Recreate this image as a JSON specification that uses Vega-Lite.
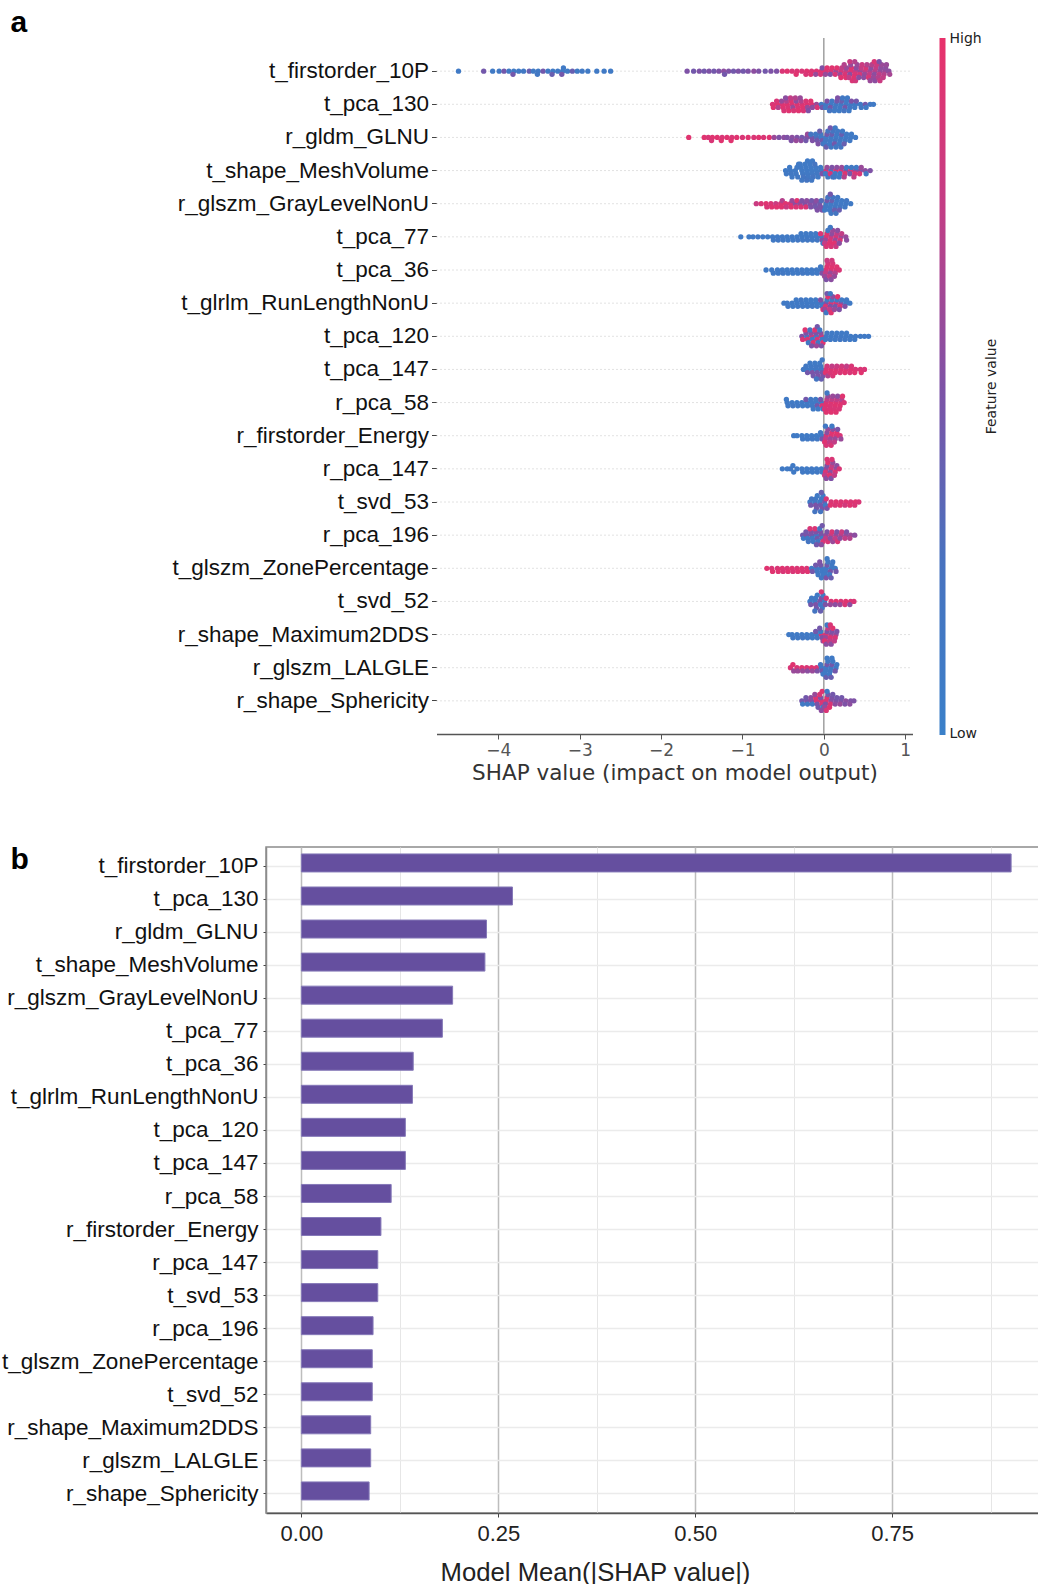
{
"$schema":"https://vega.github.io/schema/vega-lite/v6.json",
"background":"white",
"padding":{"left":0,"top":8,"right":0,"bottom":0},
"spacing":60,
"config":{"view":{"stroke":null},"legend":{"gradientVerticalMaxLength":900}},
"resolve":{"scale":{"x":"independent","y":"independent","color":"independent"},"legend":{"color":"independent"}},
"datasets":{
"names":[{"id":0,"name":"t_firstorder_10P"},{"id":1,"name":"t_pca_130"},{"id":2,"name":"r_gldm_GLNU"},{"id":3,"name":"t_shape_MeshVolume"},{"id":4,"name":"r_glszm_GrayLevelNonU"},{"id":5,"name":"t_pca_77"},{"id":6,"name":"t_pca_36"},{"id":7,"name":"t_glrlm_RunLengthNonU"},{"id":8,"name":"t_pca_120"},{"id":9,"name":"t_pca_147"},{"id":10,"name":"r_pca_58"},{"id":11,"name":"r_firstorder_Energy"},{"id":12,"name":"r_pca_147"},{"id":13,"name":"t_svd_53"},{"id":14,"name":"r_pca_196"},{"id":15,"name":"t_glszm_ZonePercentage"},{"id":16,"name":"t_svd_52"},{"id":17,"name":"r_shape_Maximum2DDS"},{"id":18,"name":"r_glszm_LALGLE"},{"id":19,"name":"r_shape_Sphericity"}],
"bars":[{"name":"t_firstorder_10P","m":0.901},{"name":"t_pca_130","m":0.268},{"name":"r_gldm_GLNU","m":0.235},{"name":"t_shape_MeshVolume","m":0.233},{"name":"r_glszm_GrayLevelNonU","m":0.192},{"name":"t_pca_77","m":0.179},{"name":"t_pca_36","m":0.142},{"name":"t_glrlm_RunLengthNonU","m":0.141},{"name":"t_pca_120","m":0.132},{"name":"t_pca_147","m":0.132},{"name":"r_pca_58","m":0.114},{"name":"r_firstorder_Energy","m":0.101},{"name":"r_pca_147","m":0.097},{"name":"t_svd_53","m":0.097},{"name":"r_pca_196","m":0.091},{"name":"t_glszm_ZonePercentage","m":0.090},{"name":"t_svd_52","m":0.090},{"name":"r_shape_Maximum2DDS","m":0.088},{"name":"r_glszm_LALGLE","m":0.088},{"name":"r_shape_Sphericity","m":0.086}],
"swarm":[
{"f":0,"s":-4.49,"v":0.1},{"f":0,"s":-4.18,"v":0.45},{"f":0,"s":-4.07,"v":0.1},{"f":0,"s":-3.99,"v":0.12},{"f":0,"s":-3.93,"v":0.45},{"f":0,"s":-3.87,"v":0.1},{"f":0,"s":-3.81,"v":0.1},{"f":0,"s":-3.82,"v":0.45},{"f":0,"s":-3.75,"v":0.1},{"f":0,"s":-3.69,"v":0.12},{"f":0,"s":-3.62,"v":0.4},{"f":0,"s":-3.57,"v":0.1},{"f":0,"s":-3.51,"v":0.1},{"f":0,"s":-3.52,"v":0.15},{"f":0,"s":-3.45,"v":0.45},{"f":0,"s":-3.39,"v":0.1},{"f":0,"s":-3.33,"v":0.1},{"f":0,"s":-3.34,"v":0.4},{"f":0,"s":-3.27,"v":0.1},{"f":0,"s":-3.21,"v":0.12},{"f":0,"s":-3.22,"v":0.45},{"f":0,"s":-3.2,"v":0.1},{"f":0,"s":-3.15,"v":0.1},{"f":0,"s":-3.09,"v":0.4},{"f":0,"s":-3.03,"v":0.1},{"f":0,"s":-2.97,"v":0.12},{"f":0,"s":-2.9,"v":0.1},{"f":0,"s":-2.79,"v":0.1},{"f":0,"s":-2.7,"v":0.1},{"f":0,"s":-2.62,"v":0.1},
{"f":0,"s":-1.68,"v":0.5},{"f":0,"s":-1.6,"v":0.45},{"f":0,"s":-1.53,"v":0.5},{"f":0,"s":-1.47,"v":0.45},{"f":0,"s":-1.41,"v":0.5},{"f":0,"s":-1.35,"v":0.45},{"f":0,"s":-1.29,"v":0.5},{"f":0,"s":-1.23,"v":0.55},{"f":0,"s":-1.22,"v":0.45},{"f":0,"s":-1.17,"v":0.5},{"f":0,"s":-1.11,"v":0.45},{"f":0,"s":-1.05,"v":0.5},{"f":0,"s":-0.99,"v":0.45},{"f":0,"s":-0.93,"v":0.5},{"f":0,"s":-0.86,"v":0.55},{"f":0,"s":-0.8,"v":0.5},{"f":0,"s":-0.72,"v":0.45},{"f":0,"s":-0.65,"v":0.5},{"f":0,"s":-0.58,"v":0.5},
{"f":0,"s":-0.51,"v":0.9},{"f":0,"s":-0.45,"v":0.95},{"f":0,"s":-0.39,"v":0.9},{"f":0,"s":-0.33,"v":0.92},{"f":0,"s":-0.34,"v":0.95},{"f":0,"s":-0.27,"v":0.9},{"f":0,"s":-0.21,"v":0.95},{"f":0,"s":-0.22,"v":0.9},{"f":0,"s":-0.15,"v":0.9},{"f":0,"s":-0.16,"v":0.95},{"f":0,"s":-0.09,"v":0.92},{"f":0,"s":-0.1,"v":0.6},{"f":0,"s":-0.03,"v":0.95},{"f":0,"s":-0.04,"v":0.9},{"f":0,"s":-0.02,"v":0.5},
{"f":0,"s":0.03,"v":0.9},{"f":0,"s":0.02,"v":0.6},{"f":0,"s":0.04,"v":0.95},{"f":0,"s":0.09,"v":0.9},{"f":0,"s":0.08,"v":0.5},{"f":0,"s":0.1,"v":0.95},{"f":0,"s":0.15,"v":0.6},{"f":0,"s":0.14,"v":0.9},{"f":0,"s":0.16,"v":0.95},
{"f":0,"s":0.21,"v":0.9},{"f":0,"s":0.2,"v":0.6},{"f":0,"s":0.22,"v":0.75},{"f":0,"s":0.21,"v":0.95},
{"f":0,"s":0.27,"v":0.75},{"f":0,"s":0.26,"v":0.9},{"f":0,"s":0.28,"v":0.6},{"f":0,"s":0.27,"v":0.95},{"f":0,"s":0.25,"v":0.7},
{"f":0,"s":0.33,"v":0.9},{"f":0,"s":0.32,"v":0.55},{"f":0,"s":0.34,"v":0.95},{"f":0,"s":0.31,"v":0.75},{"f":0,"s":0.33,"v":0.6},{"f":0,"s":0.35,"v":0.9},{"f":0,"s":0.32,"v":0.8},
{"f":0,"s":0.39,"v":0.75},{"f":0,"s":0.38,"v":0.9},{"f":0,"s":0.4,"v":0.55},{"f":0,"s":0.37,"v":0.95},{"f":0,"s":0.41,"v":0.6},{"f":0,"s":0.39,"v":0.85},{"f":0,"s":0.38,"v":0.7},
{"f":0,"s":0.45,"v":0.6},{"f":0,"s":0.44,"v":0.9},{"f":0,"s":0.46,"v":0.75},{"f":0,"s":0.43,"v":0.55},{"f":0,"s":0.47,"v":0.8},
{"f":0,"s":0.51,"v":0.75},{"f":0,"s":0.5,"v":0.6},{"f":0,"s":0.52,"v":0.9},{"f":0,"s":0.49,"v":0.55},{"f":0,"s":0.53,"v":0.7},
{"f":0,"s":0.57,"v":0.65},{"f":0,"s":0.56,"v":0.75},{"f":0,"s":0.58,"v":0.55},{"f":0,"s":0.55,"v":0.9},{"f":0,"s":0.59,"v":0.7},{"f":0,"s":0.57,"v":0.6},
{"f":0,"s":0.63,"v":0.7},{"f":0,"s":0.62,"v":0.55},{"f":0,"s":0.64,"v":0.75},{"f":0,"s":0.61,"v":0.6},{"f":0,"s":0.65,"v":0.8},{"f":0,"s":0.63,"v":0.55},{"f":0,"s":0.62,"v":0.9},
{"f":0,"s":0.69,"v":0.6},{"f":0,"s":0.68,"v":0.75},{"f":0,"s":0.7,"v":0.55},{"f":0,"s":0.67,"v":0.7},{"f":0,"s":0.71,"v":0.6},{"f":0,"s":0.69,"v":0.8},{"f":0,"s":0.68,"v":0.5},
{"f":0,"s":0.75,"v":0.6},{"f":0,"s":0.74,"v":0.7},{"f":0,"s":0.76,"v":0.55},{"f":0,"s":0.73,"v":0.75},{"f":0,"s":0.77,"v":0.6},{"f":0,"s":0.8,"v":0.55},{"f":0,"s":0.81,"v":0.65},
{"f":1,"s":-0.63,"v":0.9},{"f":1,"s":-0.62,"v":0.95},{"f":1,"s":-0.57,"v":0.95},{"f":1,"s":-0.56,"v":0.7},{"f":1,"s":-0.58,"v":0.9},{"f":1,"s":-0.51,"v":0.9},{"f":1,"s":-0.5,"v":0.95},{"f":1,"s":-0.52,"v":0.6},{"f":1,"s":-0.49,"v":0.9},{"f":1,"s":-0.45,"v":0.95},{"f":1,"s":-0.44,"v":0.9},{"f":1,"s":-0.46,"v":0.7},{"f":1,"s":-0.43,"v":0.95},{"f":1,"s":-0.47,"v":0.55},{"f":1,"s":-0.39,"v":0.9},{"f":1,"s":-0.38,"v":0.6},{"f":1,"s":-0.4,"v":0.95},{"f":1,"s":-0.37,"v":0.9},{"f":1,"s":-0.41,"v":0.75},{"f":1,"s":-0.33,"v":0.95},{"f":1,"s":-0.32,"v":0.9},{"f":1,"s":-0.34,"v":0.55},{"f":1,"s":-0.31,"v":0.95},{"f":1,"s":-0.35,"v":0.7},{"f":1,"s":-0.27,"v":0.9},{"f":1,"s":-0.26,"v":0.95},{"f":1,"s":-0.28,"v":0.7},{"f":1,"s":-0.25,"v":0.9},{"f":1,"s":-0.29,"v":0.6},{"f":1,"s":-0.21,"v":0.95},{"f":1,"s":-0.2,"v":0.6},{"f":1,"s":-0.22,"v":0.9},{"f":1,"s":-0.19,"v":0.5},{"f":1,"s":-0.15,"v":0.9},{"f":1,"s":-0.14,"v":0.55},{"f":1,"s":-0.16,"v":0.95},{"f":1,"s":-0.09,"v":0.6},{"f":1,"s":-0.08,"v":0.9},
{"f":1,"s":-0.03,"v":0.1},{"f":1,"s":-0.02,"v":0.45},{"f":1,"s":0.03,"v":0.1},{"f":1,"s":0.02,"v":0.15},{"f":1,"s":0.04,"v":0.5},{"f":1,"s":0.09,"v":0.1},{"f":1,"s":0.08,"v":0.45},{"f":1,"s":0.1,"v":0.12},{"f":1,"s":0.07,"v":0.2},{"f":1,"s":0.15,"v":0.1},{"f":1,"s":0.14,"v":0.15},{"f":1,"s":0.16,"v":0.45},{"f":1,"s":0.13,"v":0.1},{"f":1,"s":0.17,"v":0.5},{"f":1,"s":0.21,"v":0.12},{"f":1,"s":0.2,"v":0.1},{"f":1,"s":0.22,"v":0.4},{"f":1,"s":0.19,"v":0.1},{"f":1,"s":0.23,"v":0.15},{"f":1,"s":0.27,"v":0.1},{"f":1,"s":0.26,"v":0.45},{"f":1,"s":0.28,"v":0.1},{"f":1,"s":0.25,"v":0.2},{"f":1,"s":0.29,"v":0.1},{"f":1,"s":0.33,"v":0.1},{"f":1,"s":0.32,"v":0.15},{"f":1,"s":0.34,"v":0.5},{"f":1,"s":0.31,"v":0.1},{"f":1,"s":0.39,"v":0.12},{"f":1,"s":0.38,"v":0.1},{"f":1,"s":0.4,"v":0.45},{"f":1,"s":0.45,"v":0.1},{"f":1,"s":0.46,"v":0.15},{"f":1,"s":0.51,"v":0.45},{"f":1,"s":0.52,"v":0.1},{"f":1,"s":0.57,"v":0.12},{"f":1,"s":0.61,"v":0.1},
{"f":2,"s":-1.66,"v":0.95},{"f":2,"s":-1.47,"v":0.95},{"f":2,"s":-1.42,"v":0.9},{"f":2,"s":-1.37,"v":0.95},{"f":2,"s":-1.38,"v":0.9},{"f":2,"s":-1.31,"v":0.95},{"f":2,"s":-1.25,"v":0.9},{"f":2,"s":-1.26,"v":0.95},{"f":2,"s":-1.19,"v":0.95},{"f":2,"s":-1.13,"v":0.9},{"f":2,"s":-1.14,"v":0.95},{"f":2,"s":-1.07,"v":0.95},{"f":2,"s":-1.0,"v":0.9},{"f":2,"s":-0.93,"v":0.95},{"f":2,"s":-0.86,"v":0.9},{"f":2,"s":-0.8,"v":0.95},{"f":2,"s":-0.74,"v":0.9},{"f":2,"s":-0.67,"v":0.95},{"f":2,"s":-0.61,"v":0.6},{"f":2,"s":-0.55,"v":0.5},{"f":2,"s":-0.49,"v":0.55},{"f":2,"s":-0.45,"v":0.5},{"f":2,"s":-0.39,"v":0.55},{"f":2,"s":-0.4,"v":0.5},{"f":2,"s":-0.33,"v":0.5},{"f":2,"s":-0.34,"v":0.6},{"f":2,"s":-0.27,"v":0.45},{"f":2,"s":-0.28,"v":0.55},{"f":2,"s":-0.21,"v":0.5},{"f":2,"s":-0.22,"v":0.45},{"f":2,"s":-0.2,"v":0.6},
{"f":2,"s":-0.15,"v":0.45},{"f":2,"s":-0.14,"v":0.5},{"f":2,"s":-0.16,"v":0.2},{"f":2,"s":-0.09,"v":0.3},{"f":2,"s":-0.08,"v":0.45},{"f":2,"s":-0.1,"v":0.15},{"f":2,"s":-0.07,"v":0.5},{"f":2,"s":-0.03,"v":0.1},{"f":2,"s":-0.02,"v":0.45},{"f":2,"s":-0.04,"v":0.15},{"f":2,"s":-0.01,"v":0.2},{"f":2,"s":-0.05,"v":0.4},{"f":2,"s":0.03,"v":0.1},{"f":2,"s":0.02,"v":0.15},{"f":2,"s":0.04,"v":0.45},{"f":2,"s":0.01,"v":0.1},{"f":2,"s":0.05,"v":0.2},{"f":2,"s":0.03,"v":0.4},{"f":2,"s":0.09,"v":0.1},{"f":2,"s":0.08,"v":0.12},{"f":2,"s":0.1,"v":0.4},{"f":2,"s":0.07,"v":0.1},{"f":2,"s":0.11,"v":0.2},{"f":2,"s":0.09,"v":0.15},{"f":2,"s":0.08,"v":0.45},{"f":2,"s":0.15,"v":0.1},{"f":2,"s":0.14,"v":0.2},{"f":2,"s":0.16,"v":0.1},{"f":2,"s":0.13,"v":0.45},{"f":2,"s":0.17,"v":0.12},{"f":2,"s":0.15,"v":0.15},{"f":2,"s":0.14,"v":0.1},{"f":2,"s":0.21,"v":0.1},{"f":2,"s":0.2,"v":0.15},{"f":2,"s":0.22,"v":0.4},{"f":2,"s":0.19,"v":0.1},{"f":2,"s":0.23,"v":0.12},{"f":2,"s":0.21,"v":0.2},{"f":2,"s":0.27,"v":0.1},{"f":2,"s":0.26,"v":0.15},{"f":2,"s":0.28,"v":0.1},{"f":2,"s":0.25,"v":0.4},{"f":2,"s":0.33,"v":0.1},{"f":2,"s":0.32,"v":0.12},{"f":2,"s":0.34,"v":0.1},{"f":2,"s":0.39,"v":0.1},
{"f":3,"s":-0.47,"v":0.1},{"f":3,"s":-0.46,"v":0.12},{"f":3,"s":-0.41,"v":0.1},{"f":3,"s":-0.4,"v":0.15},{"f":3,"s":-0.42,"v":0.1},{"f":3,"s":-0.39,"v":0.12},{"f":3,"s":-0.35,"v":0.1},{"f":3,"s":-0.34,"v":0.12},{"f":3,"s":-0.33,"v":0.1},{"f":3,"s":-0.32,"v":0.15},{"f":3,"s":-0.31,"v":0.1},{"f":3,"s":-0.27,"v":0.1},{"f":3,"s":-0.26,"v":0.12},{"f":3,"s":-0.28,"v":0.1},{"f":3,"s":-0.25,"v":0.2},{"f":3,"s":-0.29,"v":0.1},{"f":3,"s":-0.27,"v":0.15},{"f":3,"s":-0.21,"v":0.1},{"f":3,"s":-0.2,"v":0.12},{"f":3,"s":-0.22,"v":0.1},{"f":3,"s":-0.19,"v":0.15},{"f":3,"s":-0.23,"v":0.1},{"f":3,"s":-0.21,"v":0.2},{"f":3,"s":-0.2,"v":0.1},{"f":3,"s":-0.15,"v":0.1},{"f":3,"s":-0.14,"v":0.12},{"f":3,"s":-0.16,"v":0.1},{"f":3,"s":-0.13,"v":0.2},{"f":3,"s":-0.17,"v":0.1},{"f":3,"s":-0.15,"v":0.15},{"f":3,"s":-0.14,"v":0.1},{"f":3,"s":-0.09,"v":0.1},{"f":3,"s":-0.08,"v":0.15},{"f":3,"s":-0.1,"v":0.1},{"f":3,"s":-0.07,"v":0.12},{"f":3,"s":-0.11,"v":0.2},{"f":3,"s":-0.03,"v":0.12},{"f":3,"s":-0.02,"v":0.5},{"f":3,"s":-0.04,"v":0.1},
{"f":3,"s":0.03,"v":0.9},{"f":3,"s":0.02,"v":0.1},{"f":3,"s":0.04,"v":0.6},{"f":3,"s":0.05,"v":0.15},{"f":3,"s":0.09,"v":0.1},{"f":3,"s":0.08,"v":0.9},{"f":3,"s":0.1,"v":0.5},{"f":3,"s":0.11,"v":0.2},{"f":3,"s":0.15,"v":0.95},{"f":3,"s":0.14,"v":0.1},{"f":3,"s":0.16,"v":0.55},{"f":3,"s":0.13,"v":0.15},{"f":3,"s":0.21,"v":0.9},{"f":3,"s":0.2,"v":0.15},{"f":3,"s":0.22,"v":0.6},{"f":3,"s":0.19,"v":0.1},{"f":3,"s":0.27,"v":0.5},{"f":3,"s":0.26,"v":0.95},{"f":3,"s":0.28,"v":0.1},{"f":3,"s":0.25,"v":0.7},{"f":3,"s":0.33,"v":0.9},{"f":3,"s":0.32,"v":0.45},{"f":3,"s":0.34,"v":0.15},{"f":3,"s":0.39,"v":0.55},{"f":3,"s":0.38,"v":0.9},{"f":3,"s":0.4,"v":0.1},{"f":3,"s":0.37,"v":0.75},{"f":3,"s":0.45,"v":0.5},{"f":3,"s":0.44,"v":0.9},{"f":3,"s":0.46,"v":0.6},{"f":3,"s":0.51,"v":0.55},{"f":3,"s":0.52,"v":0.15},{"f":3,"s":0.57,"v":0.5},
{"f":4,"s":-0.83,"v":0.8},{"f":4,"s":-0.77,"v":0.9},{"f":4,"s":-0.71,"v":0.95},{"f":4,"s":-0.7,"v":0.9},{"f":4,"s":-0.65,"v":0.9},{"f":4,"s":-0.64,"v":0.95},{"f":4,"s":-0.59,"v":0.8},{"f":4,"s":-0.58,"v":0.95},{"f":4,"s":-0.53,"v":0.9},{"f":4,"s":-0.52,"v":0.95},{"f":4,"s":-0.51,"v":0.7},{"f":4,"s":-0.47,"v":0.95},{"f":4,"s":-0.46,"v":0.8},{"f":4,"s":-0.41,"v":0.9},{"f":4,"s":-0.4,"v":0.95},{"f":4,"s":-0.39,"v":0.6},{"f":4,"s":-0.35,"v":0.55},{"f":4,"s":-0.34,"v":0.9},{"f":4,"s":-0.33,"v":0.95},{"f":4,"s":-0.29,"v":0.6},{"f":4,"s":-0.28,"v":0.9},{"f":4,"s":-0.27,"v":0.5},{"f":4,"s":-0.23,"v":0.5},{"f":4,"s":-0.22,"v":0.9},{"f":4,"s":-0.21,"v":0.55},{"f":4,"s":-0.17,"v":0.55},{"f":4,"s":-0.16,"v":0.5},{"f":4,"s":-0.15,"v":0.45},{"f":4,"s":-0.11,"v":0.5},{"f":4,"s":-0.1,"v":0.45},{"f":4,"s":-0.09,"v":0.55},{"f":4,"s":-0.08,"v":0.5},{"f":4,"s":-0.05,"v":0.45},{"f":4,"s":-0.04,"v":0.5},{"f":4,"s":-0.03,"v":0.3},{"f":4,"s":-0.02,"v":0.5},
{"f":4,"s":0.03,"v":0.1},{"f":4,"s":0.02,"v":0.15},{"f":4,"s":0.04,"v":0.45},{"f":4,"s":0.01,"v":0.1},{"f":4,"s":0.05,"v":0.2},{"f":4,"s":0.09,"v":0.1},{"f":4,"s":0.08,"v":0.12},{"f":4,"s":0.1,"v":0.4},{"f":4,"s":0.07,"v":0.1},{"f":4,"s":0.11,"v":0.2},{"f":4,"s":0.09,"v":0.15},{"f":4,"s":0.08,"v":0.45},{"f":4,"s":0.15,"v":0.1},{"f":4,"s":0.14,"v":0.15},{"f":4,"s":0.16,"v":0.1},{"f":4,"s":0.13,"v":0.4},{"f":4,"s":0.17,"v":0.12},{"f":4,"s":0.15,"v":0.2},{"f":4,"s":0.21,"v":0.1},{"f":4,"s":0.2,"v":0.15},{"f":4,"s":0.22,"v":0.1},{"f":4,"s":0.19,"v":0.4},{"f":4,"s":0.27,"v":0.1},{"f":4,"s":0.26,"v":0.12},{"f":4,"s":0.28,"v":0.15},{"f":4,"s":0.33,"v":0.1},
{"f":5,"s":-1.02,"v":0.1},{"f":5,"s":-0.92,"v":0.1},{"f":5,"s":-0.87,"v":0.1},{"f":5,"s":-0.81,"v":0.12},{"f":5,"s":-0.75,"v":0.1},{"f":5,"s":-0.69,"v":0.1},{"f":5,"s":-0.63,"v":0.1},{"f":5,"s":-0.62,"v":0.12},{"f":5,"s":-0.57,"v":0.1},{"f":5,"s":-0.56,"v":0.15},{"f":5,"s":-0.51,"v":0.1},{"f":5,"s":-0.5,"v":0.12},{"f":5,"s":-0.45,"v":0.1},{"f":5,"s":-0.44,"v":0.1},{"f":5,"s":-0.39,"v":0.12},{"f":5,"s":-0.38,"v":0.1},{"f":5,"s":-0.33,"v":0.1},{"f":5,"s":-0.32,"v":0.15},{"f":5,"s":-0.27,"v":0.1},{"f":5,"s":-0.26,"v":0.12},{"f":5,"s":-0.28,"v":0.1},{"f":5,"s":-0.21,"v":0.1},{"f":5,"s":-0.2,"v":0.15},{"f":5,"s":-0.22,"v":0.1},{"f":5,"s":-0.15,"v":0.1},{"f":5,"s":-0.14,"v":0.12},{"f":5,"s":-0.16,"v":0.1},{"f":5,"s":-0.09,"v":0.1},{"f":5,"s":-0.08,"v":0.15},{"f":5,"s":-0.1,"v":0.1},{"f":5,"s":-0.03,"v":0.1},{"f":5,"s":-0.02,"v":0.5},{"f":5,"s":-0.04,"v":0.9},{"f":5,"s":-0.01,"v":0.1},
{"f":5,"s":0.03,"v":0.9},{"f":5,"s":0.02,"v":0.6},{"f":5,"s":0.04,"v":0.95},{"f":5,"s":0.01,"v":0.75},{"f":5,"s":0.05,"v":0.15},{"f":5,"s":0.03,"v":0.9},{"f":5,"s":0.09,"v":0.75},{"f":5,"s":0.08,"v":0.9},{"f":5,"s":0.1,"v":0.55},{"f":5,"s":0.07,"v":0.95},{"f":5,"s":0.11,"v":0.6},{"f":5,"s":0.09,"v":0.9},{"f":5,"s":0.08,"v":0.15},{"f":5,"s":0.15,"v":0.9},{"f":5,"s":0.14,"v":0.6},{"f":5,"s":0.16,"v":0.75},{"f":5,"s":0.13,"v":0.95},{"f":5,"s":0.17,"v":0.55},{"f":5,"s":0.15,"v":0.8},{"f":5,"s":0.21,"v":0.6},{"f":5,"s":0.2,"v":0.9},{"f":5,"s":0.22,"v":0.75},{"f":5,"s":0.19,"v":0.55},{"f":5,"s":0.27,"v":0.6},{"f":5,"s":0.28,"v":0.55},
{"f":6,"s":-0.71,"v":0.1},{"f":6,"s":-0.64,"v":0.1},{"f":6,"s":-0.62,"v":0.12},{"f":6,"s":-0.57,"v":0.1},{"f":6,"s":-0.56,"v":0.12},{"f":6,"s":-0.51,"v":0.1},{"f":6,"s":-0.5,"v":0.15},{"f":6,"s":-0.45,"v":0.1},{"f":6,"s":-0.44,"v":0.12},{"f":6,"s":-0.39,"v":0.1},{"f":6,"s":-0.38,"v":0.1},{"f":6,"s":-0.33,"v":0.12},{"f":6,"s":-0.32,"v":0.1},{"f":6,"s":-0.27,"v":0.1},{"f":6,"s":-0.26,"v":0.15},{"f":6,"s":-0.21,"v":0.1},{"f":6,"s":-0.2,"v":0.12},{"f":6,"s":-0.15,"v":0.1},{"f":6,"s":-0.14,"v":0.1},{"f":6,"s":-0.09,"v":0.12},{"f":6,"s":-0.08,"v":0.1},{"f":6,"s":-0.03,"v":0.1},{"f":6,"s":-0.02,"v":0.5},{"f":6,"s":-0.04,"v":0.15},
{"f":6,"s":0.03,"v":0.9},{"f":6,"s":0.02,"v":0.75},{"f":6,"s":0.04,"v":0.95},{"f":6,"s":0.01,"v":0.6},{"f":6,"s":0.05,"v":0.9},{"f":6,"s":0.03,"v":0.5},{"f":6,"s":0.04,"v":0.8},{"f":6,"s":0.09,"v":0.9},{"f":6,"s":0.08,"v":0.6},{"f":6,"s":0.1,"v":0.95},{"f":6,"s":0.07,"v":0.75},{"f":6,"s":0.11,"v":0.9},{"f":6,"s":0.09,"v":0.55},{"f":6,"s":0.1,"v":0.85},{"f":6,"s":0.15,"v":0.9},{"f":6,"s":0.14,"v":0.7},{"f":6,"s":0.16,"v":0.95},{"f":6,"s":0.13,"v":0.6},{"f":6,"s":0.19,"v":0.9},
{"f":7,"s":-0.49,"v":0.1},{"f":7,"s":-0.45,"v":0.1},{"f":7,"s":-0.44,"v":0.12},{"f":7,"s":-0.39,"v":0.1},{"f":7,"s":-0.38,"v":0.1},{"f":7,"s":-0.33,"v":0.1},{"f":7,"s":-0.32,"v":0.12},{"f":7,"s":-0.34,"v":0.1},{"f":7,"s":-0.27,"v":0.1},{"f":7,"s":-0.26,"v":0.12},{"f":7,"s":-0.28,"v":0.15},{"f":7,"s":-0.21,"v":0.1},{"f":7,"s":-0.2,"v":0.12},{"f":7,"s":-0.22,"v":0.1},{"f":7,"s":-0.15,"v":0.1},{"f":7,"s":-0.14,"v":0.15},{"f":7,"s":-0.16,"v":0.1},{"f":7,"s":-0.09,"v":0.1},{"f":7,"s":-0.08,"v":0.12},{"f":7,"s":-0.1,"v":0.1},{"f":7,"s":-0.03,"v":0.1},{"f":7,"s":-0.02,"v":0.1},{"f":7,"s":-0.04,"v":0.5},{"f":7,"s":-0.01,"v":0.9},
{"f":7,"s":0.03,"v":0.5},{"f":7,"s":0.02,"v":0.9},{"f":7,"s":0.04,"v":0.1},{"f":7,"s":0.01,"v":0.6},{"f":7,"s":0.05,"v":0.95},{"f":7,"s":0.03,"v":0.15},{"f":7,"s":0.04,"v":0.45},{"f":7,"s":0.09,"v":0.9},{"f":7,"s":0.08,"v":0.5},{"f":7,"s":0.1,"v":0.1},{"f":7,"s":0.07,"v":0.75},{"f":7,"s":0.11,"v":0.55},{"f":7,"s":0.09,"v":0.95},{"f":7,"s":0.08,"v":0.15},{"f":7,"s":0.15,"v":0.9},{"f":7,"s":0.14,"v":0.45},{"f":7,"s":0.16,"v":0.1},{"f":7,"s":0.13,"v":0.6},{"f":7,"s":0.17,"v":0.95},{"f":7,"s":0.21,"v":0.55},{"f":7,"s":0.2,"v":0.9},{"f":7,"s":0.22,"v":0.1},{"f":7,"s":0.19,"v":0.5},{"f":7,"s":0.27,"v":0.1},{"f":7,"s":0.26,"v":0.5},{"f":7,"s":0.28,"v":0.15},{"f":7,"s":0.32,"v":0.1},
{"f":8,"s":-0.27,"v":0.5},{"f":8,"s":-0.26,"v":0.9},{"f":8,"s":-0.21,"v":0.1},{"f":8,"s":-0.2,"v":0.9},{"f":8,"s":-0.22,"v":0.5},{"f":8,"s":-0.19,"v":0.15},{"f":8,"s":-0.23,"v":0.95},{"f":8,"s":-0.15,"v":0.9},{"f":8,"s":-0.14,"v":0.1},{"f":8,"s":-0.16,"v":0.55},{"f":8,"s":-0.13,"v":0.95},{"f":8,"s":-0.17,"v":0.2},{"f":8,"s":-0.15,"v":0.5},{"f":8,"s":-0.09,"v":0.1},{"f":8,"s":-0.08,"v":0.9},{"f":8,"s":-0.1,"v":0.5},{"f":8,"s":-0.07,"v":0.15},{"f":8,"s":-0.11,"v":0.95},{"f":8,"s":-0.09,"v":0.6},{"f":8,"s":-0.08,"v":0.45},{"f":8,"s":-0.03,"v":0.9},{"f":8,"s":-0.02,"v":0.1},{"f":8,"s":-0.04,"v":0.55},{"f":8,"s":-0.01,"v":0.95},{"f":8,"s":-0.05,"v":0.15},{"f":8,"s":-0.03,"v":0.5},
{"f":8,"s":0.03,"v":0.1},{"f":8,"s":0.02,"v":0.12},{"f":8,"s":0.04,"v":0.15},{"f":8,"s":0.09,"v":0.1},{"f":8,"s":0.08,"v":0.12},{"f":8,"s":0.1,"v":0.1},{"f":8,"s":0.15,"v":0.12},{"f":8,"s":0.14,"v":0.1},{"f":8,"s":0.16,"v":0.1},{"f":8,"s":0.21,"v":0.1},{"f":8,"s":0.2,"v":0.15},{"f":8,"s":0.22,"v":0.1},{"f":8,"s":0.27,"v":0.1},{"f":8,"s":0.26,"v":0.12},{"f":8,"s":0.28,"v":0.1},{"f":8,"s":0.33,"v":0.1},{"f":8,"s":0.32,"v":0.1},{"f":8,"s":0.39,"v":0.12},{"f":8,"s":0.38,"v":0.1},{"f":8,"s":0.45,"v":0.1},{"f":8,"s":0.5,"v":0.1},{"f":8,"s":0.55,"v":0.1},
{"f":9,"s":-0.25,"v":0.15},{"f":9,"s":-0.21,"v":0.1},{"f":9,"s":-0.2,"v":0.45},{"f":9,"s":-0.22,"v":0.15},{"f":9,"s":-0.15,"v":0.1},{"f":9,"s":-0.14,"v":0.5},{"f":9,"s":-0.16,"v":0.12},{"f":9,"s":-0.13,"v":0.45},{"f":9,"s":-0.17,"v":0.1},{"f":9,"s":-0.09,"v":0.1},{"f":9,"s":-0.08,"v":0.45},{"f":9,"s":-0.1,"v":0.15},{"f":9,"s":-0.07,"v":0.5},{"f":9,"s":-0.11,"v":0.1},{"f":9,"s":-0.09,"v":0.2},{"f":9,"s":-0.03,"v":0.1},{"f":9,"s":-0.02,"v":0.45},{"f":9,"s":-0.04,"v":0.15},{"f":9,"s":-0.01,"v":0.5},{"f":9,"s":-0.05,"v":0.1},{"f":9,"s":-0.03,"v":0.4},{"f":9,"s":-0.02,"v":0.12},
{"f":9,"s":0.03,"v":0.9},{"f":9,"s":0.02,"v":0.95},{"f":9,"s":0.04,"v":0.85},{"f":9,"s":0.05,"v":0.7},{"f":9,"s":0.09,"v":0.95},{"f":9,"s":0.08,"v":0.9},{"f":9,"s":0.1,"v":0.75},{"f":9,"s":0.11,"v":0.9},{"f":9,"s":0.15,"v":0.9},{"f":9,"s":0.14,"v":0.95},{"f":9,"s":0.16,"v":0.8},{"f":9,"s":0.21,"v":0.95},{"f":9,"s":0.2,"v":0.9},{"f":9,"s":0.22,"v":0.85},{"f":9,"s":0.27,"v":0.9},{"f":9,"s":0.26,"v":0.95},{"f":9,"s":0.28,"v":0.75},{"f":9,"s":0.33,"v":0.95},{"f":9,"s":0.32,"v":0.9},{"f":9,"s":0.34,"v":0.9},{"f":9,"s":0.39,"v":0.9},{"f":9,"s":0.38,"v":0.95},{"f":9,"s":0.45,"v":0.9},{"f":9,"s":0.46,"v":0.95},{"f":9,"s":0.5,"v":0.9},
{"f":10,"s":-0.45,"v":0.1},{"f":10,"s":-0.44,"v":0.12},{"f":10,"s":-0.46,"v":0.1},{"f":10,"s":-0.39,"v":0.1},{"f":10,"s":-0.38,"v":0.15},{"f":10,"s":-0.33,"v":0.1},{"f":10,"s":-0.32,"v":0.12},{"f":10,"s":-0.27,"v":0.1},{"f":10,"s":-0.26,"v":0.1},{"f":10,"s":-0.21,"v":0.1},{"f":10,"s":-0.2,"v":0.12},{"f":10,"s":-0.22,"v":0.45},{"f":10,"s":-0.15,"v":0.1},{"f":10,"s":-0.14,"v":0.12},{"f":10,"s":-0.16,"v":0.15},{"f":10,"s":-0.13,"v":0.1},{"f":10,"s":-0.09,"v":0.1},{"f":10,"s":-0.08,"v":0.45},{"f":10,"s":-0.1,"v":0.12},{"f":10,"s":-0.07,"v":0.1},{"f":10,"s":-0.03,"v":0.1},{"f":10,"s":-0.02,"v":0.9},{"f":10,"s":-0.04,"v":0.45},{"f":10,"s":-0.01,"v":0.1},
{"f":10,"s":0.03,"v":0.9},{"f":10,"s":0.02,"v":0.95},{"f":10,"s":0.04,"v":0.75},{"f":10,"s":0.01,"v":0.9},{"f":10,"s":0.05,"v":0.6},{"f":10,"s":0.03,"v":0.95},{"f":10,"s":0.04,"v":0.15},{"f":10,"s":0.09,"v":0.95},{"f":10,"s":0.08,"v":0.9},{"f":10,"s":0.1,"v":0.75},{"f":10,"s":0.07,"v":0.9},{"f":10,"s":0.11,"v":0.6},{"f":10,"s":0.09,"v":0.95},{"f":10,"s":0.15,"v":0.9},{"f":10,"s":0.14,"v":0.95},{"f":10,"s":0.16,"v":0.75},{"f":10,"s":0.13,"v":0.9},{"f":10,"s":0.17,"v":0.55},{"f":10,"s":0.15,"v":0.95},{"f":10,"s":0.21,"v":0.9},{"f":10,"s":0.2,"v":0.95},{"f":10,"s":0.22,"v":0.7},{"f":10,"s":0.19,"v":0.9},{"f":10,"s":0.23,"v":0.95},{"f":10,"s":0.25,"v":0.9},
{"f":11,"s":-0.37,"v":0.1},{"f":11,"s":-0.33,"v":0.1},{"f":11,"s":-0.27,"v":0.1},{"f":11,"s":-0.26,"v":0.12},{"f":11,"s":-0.21,"v":0.1},{"f":11,"s":-0.2,"v":0.12},{"f":11,"s":-0.15,"v":0.1},{"f":11,"s":-0.14,"v":0.15},{"f":11,"s":-0.09,"v":0.1},{"f":11,"s":-0.08,"v":0.12},{"f":11,"s":-0.03,"v":0.1},{"f":11,"s":-0.02,"v":0.45},{"f":11,"s":-0.04,"v":0.15},
{"f":11,"s":0.03,"v":0.9},{"f":11,"s":0.02,"v":0.75},{"f":11,"s":0.04,"v":0.55},{"f":11,"s":0.01,"v":0.95},{"f":11,"s":0.05,"v":0.6},{"f":11,"s":0.03,"v":0.9},{"f":11,"s":0.02,"v":0.15},{"f":11,"s":0.09,"v":0.9},{"f":11,"s":0.08,"v":0.6},{"f":11,"s":0.1,"v":0.95},{"f":11,"s":0.07,"v":0.75},{"f":11,"s":0.11,"v":0.55},{"f":11,"s":0.09,"v":0.9},{"f":11,"s":0.1,"v":0.1},{"f":11,"s":0.15,"v":0.9},{"f":11,"s":0.14,"v":0.6},{"f":11,"s":0.16,"v":0.95},{"f":11,"s":0.13,"v":0.75},{"f":11,"s":0.17,"v":0.5},{"f":11,"s":0.2,"v":0.9},{"f":11,"s":0.21,"v":0.6},
{"f":12,"s":-0.51,"v":0.1},{"f":12,"s":-0.45,"v":0.1},{"f":12,"s":-0.41,"v":0.12},{"f":12,"s":-0.37,"v":0.1},{"f":12,"s":-0.38,"v":0.1},{"f":12,"s":-0.33,"v":0.1},{"f":12,"s":-0.27,"v":0.1},{"f":12,"s":-0.26,"v":0.12},{"f":12,"s":-0.21,"v":0.1},{"f":12,"s":-0.2,"v":0.1},{"f":12,"s":-0.15,"v":0.12},{"f":12,"s":-0.14,"v":0.1},{"f":12,"s":-0.09,"v":0.1},{"f":12,"s":-0.08,"v":0.12},{"f":12,"s":-0.03,"v":0.1},{"f":12,"s":-0.02,"v":0.15},
{"f":12,"s":0.03,"v":0.6},{"f":12,"s":0.02,"v":0.9},{"f":12,"s":0.04,"v":0.5},{"f":12,"s":0.01,"v":0.75},{"f":12,"s":0.05,"v":0.95},{"f":12,"s":0.03,"v":0.55},{"f":12,"s":0.04,"v":0.9},{"f":12,"s":0.09,"v":0.9},{"f":12,"s":0.08,"v":0.55},{"f":12,"s":0.1,"v":0.75},{"f":12,"s":0.07,"v":0.95},{"f":12,"s":0.11,"v":0.6},{"f":12,"s":0.09,"v":0.5},{"f":12,"s":0.1,"v":0.9},{"f":12,"s":0.15,"v":0.6},{"f":12,"s":0.14,"v":0.9},{"f":12,"s":0.16,"v":0.55},{"f":12,"s":0.13,"v":0.75},{"f":12,"s":0.19,"v":0.9},
{"f":13,"s":-0.17,"v":0.1},{"f":13,"s":-0.16,"v":0.45},{"f":13,"s":-0.15,"v":0.2},{"f":13,"s":-0.11,"v":0.1},{"f":13,"s":-0.1,"v":0.5},{"f":13,"s":-0.1,"v":0.15},{"f":13,"s":-0.09,"v":0.45},{"f":13,"s":-0.08,"v":0.1},{"f":13,"s":-0.11,"v":0.2},{"f":13,"s":-0.05,"v":0.1},{"f":13,"s":-0.04,"v":0.45},{"f":13,"s":-0.03,"v":0.15},{"f":13,"s":-0.02,"v":0.5},{"f":13,"s":-0.01,"v":0.1},{"f":13,"s":-0.04,"v":0.2},{"f":13,"s":-0.03,"v":0.4},{"f":13,"s":0.01,"v":0.45},{"f":13,"s":0.02,"v":0.1},{"f":13,"s":0.03,"v":0.9},{"f":13,"s":0.04,"v":0.5},
{"f":13,"s":0.09,"v":0.9},{"f":13,"s":0.08,"v":0.95},{"f":13,"s":0.15,"v":0.95},{"f":13,"s":0.14,"v":0.9},{"f":13,"s":0.21,"v":0.9},{"f":13,"s":0.2,"v":0.95},{"f":13,"s":0.27,"v":0.95},{"f":13,"s":0.26,"v":0.85},{"f":13,"s":0.33,"v":0.9},{"f":13,"s":0.32,"v":0.95},{"f":13,"s":0.39,"v":0.95},{"f":13,"s":0.38,"v":0.9},{"f":13,"s":0.43,"v":0.9},
{"f":14,"s":-0.26,"v":0.45},{"f":14,"s":-0.25,"v":0.1},{"f":14,"s":-0.21,"v":0.5},{"f":14,"s":-0.2,"v":0.1},{"f":14,"s":-0.22,"v":0.45},{"f":14,"s":-0.19,"v":0.2},{"f":14,"s":-0.15,"v":0.45},{"f":14,"s":-0.14,"v":0.1},{"f":14,"s":-0.16,"v":0.5},{"f":14,"s":-0.13,"v":0.15},{"f":14,"s":-0.17,"v":0.9},{"f":14,"s":-0.09,"v":0.1},{"f":14,"s":-0.08,"v":0.45},{"f":14,"s":-0.1,"v":0.5},{"f":14,"s":-0.07,"v":0.2},{"f":14,"s":-0.11,"v":0.9},{"f":14,"s":-0.09,"v":0.45},{"f":14,"s":-0.03,"v":0.45},{"f":14,"s":-0.02,"v":0.1},{"f":14,"s":-0.04,"v":0.5},{"f":14,"s":-0.01,"v":0.9},{"f":14,"s":-0.05,"v":0.2},{"f":14,"s":-0.03,"v":0.55},{"f":14,"s":-0.02,"v":0.45},
{"f":14,"s":0.03,"v":0.6},{"f":14,"s":0.02,"v":0.75},{"f":14,"s":0.04,"v":0.5},{"f":14,"s":0.05,"v":0.9},{"f":14,"s":0.09,"v":0.75},{"f":14,"s":0.08,"v":0.55},{"f":14,"s":0.1,"v":0.9},{"f":14,"s":0.11,"v":0.6},{"f":14,"s":0.15,"v":0.6},{"f":14,"s":0.14,"v":0.75},{"f":14,"s":0.16,"v":0.5},{"f":14,"s":0.17,"v":0.9},{"f":14,"s":0.21,"v":0.7},{"f":14,"s":0.2,"v":0.55},{"f":14,"s":0.22,"v":0.8},{"f":14,"s":0.27,"v":0.6},{"f":14,"s":0.26,"v":0.75},{"f":14,"s":0.28,"v":0.5},{"f":14,"s":0.33,"v":0.6},{"f":14,"s":0.32,"v":0.7},{"f":14,"s":0.38,"v":0.55},
{"f":15,"s":-0.7,"v":0.95},{"f":15,"s":-0.64,"v":0.9},{"f":15,"s":-0.63,"v":0.95},{"f":15,"s":-0.57,"v":0.9},{"f":15,"s":-0.56,"v":0.95},{"f":15,"s":-0.51,"v":0.95},{"f":15,"s":-0.5,"v":0.9},{"f":15,"s":-0.45,"v":0.9},{"f":15,"s":-0.44,"v":0.95},{"f":15,"s":-0.39,"v":0.95},{"f":15,"s":-0.38,"v":0.9},{"f":15,"s":-0.33,"v":0.9},{"f":15,"s":-0.32,"v":0.95},{"f":15,"s":-0.27,"v":0.95},{"f":15,"s":-0.26,"v":0.9},{"f":15,"s":-0.21,"v":0.9},{"f":15,"s":-0.2,"v":0.95},
{"f":15,"s":-0.15,"v":0.1},{"f":15,"s":-0.14,"v":0.45},{"f":15,"s":-0.09,"v":0.1},{"f":15,"s":-0.08,"v":0.15},{"f":15,"s":-0.1,"v":0.45},{"f":15,"s":-0.07,"v":0.1},{"f":15,"s":-0.03,"v":0.1},{"f":15,"s":-0.02,"v":0.12},{"f":15,"s":-0.04,"v":0.45},{"f":15,"s":-0.01,"v":0.1},{"f":15,"s":-0.05,"v":0.5},{"f":15,"s":-0.03,"v":0.15},{"f":15,"s":0.03,"v":0.1},{"f":15,"s":0.02,"v":0.12},{"f":15,"s":0.04,"v":0.45},{"f":15,"s":0.01,"v":0.1},{"f":15,"s":0.05,"v":0.15},{"f":15,"s":0.03,"v":0.5},{"f":15,"s":0.04,"v":0.1},{"f":15,"s":0.09,"v":0.1},{"f":15,"s":0.08,"v":0.45},{"f":15,"s":0.1,"v":0.12},{"f":15,"s":0.07,"v":0.1},{"f":15,"s":0.11,"v":0.15},{"f":15,"s":0.09,"v":0.4},{"f":15,"s":0.14,"v":0.1},{"f":15,"s":0.15,"v":0.45},
{"f":16,"s":-0.17,"v":0.1},{"f":16,"s":-0.16,"v":0.45},{"f":16,"s":-0.15,"v":0.15},{"f":16,"s":-0.11,"v":0.1},{"f":16,"s":-0.1,"v":0.5},{"f":16,"s":-0.1,"v":0.15},{"f":16,"s":-0.09,"v":0.45},{"f":16,"s":-0.08,"v":0.1},{"f":16,"s":-0.11,"v":0.2},{"f":16,"s":-0.05,"v":0.45},{"f":16,"s":-0.04,"v":0.1},{"f":16,"s":-0.03,"v":0.5},{"f":16,"s":-0.02,"v":0.15},{"f":16,"s":-0.01,"v":0.1},{"f":16,"s":-0.04,"v":0.4},{"f":16,"s":-0.03,"v":0.9},{"f":16,"s":0.01,"v":0.1},{"f":16,"s":0.02,"v":0.5},{"f":16,"s":0.03,"v":0.9},
{"f":16,"s":0.09,"v":0.9},{"f":16,"s":0.08,"v":0.6},{"f":16,"s":0.15,"v":0.95},{"f":16,"s":0.14,"v":0.55},{"f":16,"s":0.21,"v":0.9},{"f":16,"s":0.2,"v":0.6},{"f":16,"s":0.27,"v":0.95},{"f":16,"s":0.26,"v":0.9},{"f":16,"s":0.33,"v":0.9},{"f":16,"s":0.32,"v":0.55},{"f":16,"s":0.37,"v":0.9},
{"f":17,"s":-0.43,"v":0.1},{"f":17,"s":-0.39,"v":0.1},{"f":17,"s":-0.38,"v":0.12},{"f":17,"s":-0.33,"v":0.1},{"f":17,"s":-0.32,"v":0.12},{"f":17,"s":-0.27,"v":0.1},{"f":17,"s":-0.26,"v":0.15},{"f":17,"s":-0.21,"v":0.1},{"f":17,"s":-0.2,"v":0.12},{"f":17,"s":-0.15,"v":0.1},{"f":17,"s":-0.14,"v":0.1},{"f":17,"s":-0.09,"v":0.1},{"f":17,"s":-0.08,"v":0.15},{"f":17,"s":-0.1,"v":0.45},
{"f":17,"s":-0.03,"v":0.9},{"f":17,"s":-0.02,"v":0.5},{"f":17,"s":-0.04,"v":0.1},{"f":17,"s":-0.01,"v":0.6},{"f":17,"s":-0.05,"v":0.45},{"f":17,"s":0.03,"v":0.9},{"f":17,"s":0.02,"v":0.6},{"f":17,"s":0.04,"v":0.5},{"f":17,"s":0.01,"v":0.95},{"f":17,"s":0.05,"v":0.75},{"f":17,"s":0.03,"v":0.55},{"f":17,"s":0.04,"v":0.1},{"f":17,"s":0.09,"v":0.6},{"f":17,"s":0.08,"v":0.9},{"f":17,"s":0.1,"v":0.5},{"f":17,"s":0.07,"v":0.75},{"f":17,"s":0.11,"v":0.95},{"f":17,"s":0.09,"v":0.55},{"f":17,"s":0.08,"v":0.9},{"f":17,"s":0.15,"v":0.6},{"f":17,"s":0.14,"v":0.9},{"f":17,"s":0.16,"v":0.5},{"f":17,"s":0.13,"v":0.75},
{"f":18,"s":-0.41,"v":0.9},{"f":18,"s":-0.37,"v":0.6},{"f":18,"s":-0.38,"v":0.95},{"f":18,"s":-0.33,"v":0.9},{"f":18,"s":-0.32,"v":0.6},{"f":18,"s":-0.27,"v":0.95},{"f":18,"s":-0.26,"v":0.6},{"f":18,"s":-0.21,"v":0.9},{"f":18,"s":-0.2,"v":0.55},{"f":18,"s":-0.15,"v":0.95},{"f":18,"s":-0.14,"v":0.6},{"f":18,"s":-0.09,"v":0.9},{"f":18,"s":-0.08,"v":0.5},
{"f":18,"s":-0.03,"v":0.1},{"f":18,"s":-0.02,"v":0.45},{"f":18,"s":-0.04,"v":0.15},{"f":18,"s":-0.01,"v":0.1},{"f":18,"s":0.03,"v":0.1},{"f":18,"s":0.02,"v":0.12},{"f":18,"s":0.04,"v":0.45},{"f":18,"s":0.01,"v":0.1},{"f":18,"s":0.05,"v":0.15},{"f":18,"s":0.03,"v":0.4},{"f":18,"s":0.04,"v":0.1},{"f":18,"s":0.09,"v":0.1},{"f":18,"s":0.08,"v":0.15},{"f":18,"s":0.1,"v":0.45},{"f":18,"s":0.07,"v":0.1},{"f":18,"s":0.11,"v":0.12},{"f":18,"s":0.09,"v":0.4},{"f":18,"s":0.1,"v":0.1},{"f":18,"s":0.15,"v":0.1},{"f":18,"s":0.14,"v":0.45},{"f":18,"s":0.16,"v":0.12},
{"f":19,"s":-0.27,"v":0.45},{"f":19,"s":-0.26,"v":0.1},{"f":19,"s":-0.21,"v":0.5},{"f":19,"s":-0.2,"v":0.15},{"f":19,"s":-0.22,"v":0.45},{"f":19,"s":-0.15,"v":0.5},{"f":19,"s":-0.14,"v":0.1},{"f":19,"s":-0.16,"v":0.55},
{"f":19,"s":-0.09,"v":0.9},{"f":19,"s":-0.08,"v":0.5},{"f":19,"s":-0.1,"v":0.95},{"f":19,"s":-0.07,"v":0.45},{"f":19,"s":-0.11,"v":0.6},{"f":19,"s":-0.03,"v":0.95},{"f":19,"s":-0.02,"v":0.9},{"f":19,"s":-0.04,"v":0.5},{"f":19,"s":-0.01,"v":0.1},{"f":19,"s":-0.05,"v":0.9},{"f":19,"s":-0.03,"v":0.55},{"f":19,"s":-0.02,"v":0.95},{"f":19,"s":0.03,"v":0.9},{"f":19,"s":0.02,"v":0.5},{"f":19,"s":0.04,"v":0.95},{"f":19,"s":0.01,"v":0.6},{"f":19,"s":0.05,"v":0.45},{"f":19,"s":0.03,"v":0.9},{"f":19,"s":0.04,"v":0.1},{"f":19,"s":0.09,"v":0.55},{"f":19,"s":0.08,"v":0.9},{"f":19,"s":0.1,"v":0.5},{"f":19,"s":0.07,"v":0.95},{"f":19,"s":0.11,"v":0.45},
{"f":19,"s":0.15,"v":0.5},{"f":19,"s":0.14,"v":0.55},{"f":19,"s":0.16,"v":0.45},{"f":19,"s":0.21,"v":0.5},{"f":19,"s":0.2,"v":0.6},{"f":19,"s":0.22,"v":0.45},{"f":19,"s":0.27,"v":0.55},{"f":19,"s":0.26,"v":0.5},{"f":19,"s":0.33,"v":0.5},{"f":19,"s":0.32,"v":0.55},{"f":19,"s":0.37,"v":0.5}
]
},
"vconcat":[
{
"width":646.5,"height":696,
"title":{"text":"a","anchor":"start","frame":"group","font":"Liberation Sans","fontSize":30,"fontWeight":"bold","color":"#000000","dx":-255.5,"offset":-25,"baseline":"alphabetic"},
"resolve":{"scale":{"y":"independent"},"axis":{"y":"independent"}},
"layer":[
{"data":{"name":"names"},"mark":{"type":"rule","color":"#c4c4c4","strokeDash":[1,3],"strokeWidth":1},
"encoding":{
"y":{"field":"name","type":"nominal","sort":["t_firstorder_10P","t_pca_130","r_gldm_GLNU","t_shape_MeshVolume","r_glszm_GrayLevelNonU","t_pca_77","t_pca_36","t_glrlm_RunLengthNonU","t_pca_120","t_pca_147","r_pca_58","r_firstorder_Energy","r_pca_147","t_svd_53","r_pca_196","t_glszm_ZonePercentage","t_svd_52","r_shape_Maximum2DDS","r_glszm_LALGLE","r_shape_Sphericity"],"scale":{"type":"band","paddingInner":0,"paddingOuter":0.5},"axis":null},
"x":{"datum":-4.76,"type":"quantitative"},"x2":{"datum":1.09}}},
{"data":{"values":[{}]},"mark":{"type":"rule","color":"#a0a0a0","strokeWidth":1.5},"encoding":{"x":{"datum":0,"type":"quantitative"}}},
{"data":{"name":"swarm"},
"transform":[
{"lookup":"f","from":{"data":{"name":"names"},"key":"id","fields":["name"]}},
{"calculate":"floor(datum.s/0.06)","as":"sb"},
{"window":[{"op":"row_number","as":"r"}],"groupby":["f","sb"]},
{"calculate":"(datum.r%2==0?1:-1)*floor(datum.r/2)","as":"off"}
],
"mark":{"type":"circle","size":28,"opacity":1},
"encoding":{
"x":{"field":"s","type":"quantitative","scale":{"domain":[-4.76,1.09],"range":[170.5,646.5],"nice":false,"zero":false},
"axis":{"values":[-4,-3,-2,-1,0,1],"format":"d","title":"SHAP value (impact on model output)","titleFont":"DejaVu Sans","titleFontSize":21.5,"titleFontWeight":"normal","titleColor":"#333333","titlePadding":4,"labelFont":"DejaVu Sans","labelFontSize":17,"labelColor":"#555555","tickColor":"#555555","tickSize":5,"labelPadding":3,"domainColor":"#555555","domainWidth":1.5,"grid":false}},
"y":{"field":"name","type":"nominal","sort":["t_firstorder_10P","t_pca_130","r_gldm_GLNU","t_shape_MeshVolume","r_glszm_GrayLevelNonU","t_pca_77","t_pca_36","t_glrlm_RunLengthNonU","t_pca_120","t_pca_147","r_pca_58","r_firstorder_Energy","r_pca_147","t_svd_53","r_pca_196","t_glszm_ZonePercentage","t_svd_52","r_shape_Maximum2DDS","r_glszm_LALGLE","r_shape_Sphericity"],
"scale":{"type":"band","paddingInner":0,"paddingOuter":0.5},
"axis":{"title":null,"labelFont":"Liberation Sans","labelFontSize":22.5,"labelColor":"#111111","labelPadding":3,"tickSize":5,"tickColor":"#444444","domain":false,"grid":false,"bandPosition":0.5,"offset":-170.5,"minExtent":0,"maxExtent":0,"labelLimit":0}},
"yOffset":{"field":"off","type":"quantitative","scale":{"domain":[-5.2,5.2]}},
"color":{"field":"v","type":"quantitative","scale":{"domain":[0,0.25,0.5,0.75,1],"range":["#3a80c9","#4872bf","#7e52a6","#c23e86","#e8316b"],"interpolate":"rgb"},
"legend":{"type":"gradient","direction":"vertical","orient":"none","legendX":673.5,"legendY":0,"padding":0,"gradientLength":697,"gradientThickness":6,"gradientStrokeWidth":0,"values":[0.002,0.998],"labelExpr":"datum.value > 0.5 ? 'High' : 'Low'","labelFont":"DejaVu Sans","labelFontSize":14,"labelColor":"#222222","labelOffset":4,"labelOverlap":false,"title":null}}
}},
{"data":{"values":[{}]},"mark":{"type":"point","opacity":0},
"encoding":{"y":{"datum":0,"type":"quantitative","scale":{"domain":[0,1]},
"axis":{"orient":"right","title":"Feature value","titleAngle":270,"titleFont":"DejaVu Sans","titleFontSize":14,"titleFontWeight":"normal","titleColor":"#222222","titlePadding":86,"labels":false,"ticks":false,"domain":false,"grid":false}}}}
]
},
{
"width":776,"height":666,
"view":{"stroke":"#8c8c8c","strokeWidth":1.5},
"title":{"text":"b","anchor":"start","frame":"bounds","font":"Liberation Sans","fontSize":30,"fontWeight":"bold","color":"#000000","dx":9,"offset":-52,"baseline":"alphabetic"},
"data":{"name":"bars"},
"mark":{"type":"bar","color":"#654f9f","stroke":"#8579b8","strokeWidth":1},
"encoding":{
"x":{"field":"m","type":"quantitative","scale":{"domain":[-0.0449,0.9402],"nice":false},
"axis":{"values":[0,0.125,0.25,0.375,0.5,0.625,0.75,0.875],"labelExpr":"(datum.value*4)%1==0 ? format(datum.value,'.2f') : ''","title":"Model Mean(|SHAP value|)","titleX":329,"titleFont":"Liberation Sans","titleFontSize":25.7,"titleFontWeight":"normal","titleColor":"#222222","titlePadding":16,"labelFont":"Liberation Sans","labelFontSize":22,"labelColor":"#222222","labelPadding":6,"tickSize":4,"tickColor":{"condition":{"test":"(datum.value*4)%1==0","value":"#444444"},"value":"transparent"},"domainColor":"#555555","domainWidth":1.5,"grid":true,"gridColor":{"condition":{"test":"(datum.value*4)%1==0","value":"#bdbdbd"},"value":"#e6e6e6"},"gridWidth":{"condition":{"test":"(datum.value*4)%1==0","value":1.5},"value":1}}},
"y":{"field":"name","type":"nominal","sort":null,
"scale":{"type":"band","paddingInner":0.27,"paddingOuter":0.21},
"axis":{"title":null,"labelFont":"Liberation Sans","labelFontSize":22.5,"labelColor":"#111111","labelPadding":5,"tickSize":3,"tickColor":"#444444","domain":true,"domainColor":"#8c8c8c","domainWidth":1.5,"grid":true,"gridColor":"#ebebeb","gridWidth":1.5,"bandPosition":0.5,"minExtent":263.5,"maxExtent":263.5,"labelLimit":0}}
}
}
]
}
